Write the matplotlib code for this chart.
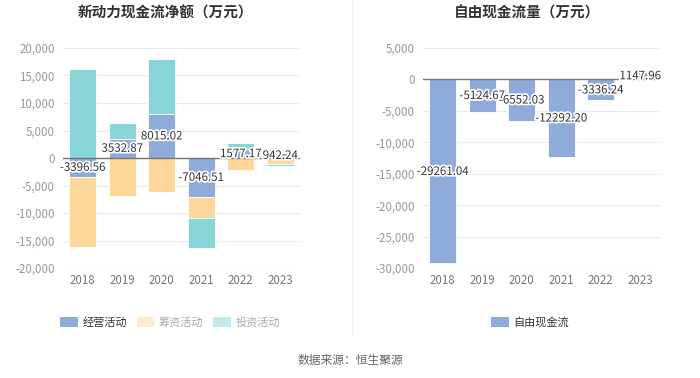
import matplotlib
matplotlib.use("Agg")
import matplotlib.pyplot as plt
import matplotlib.patheffects as pe
from matplotlib.patches import Patch
import numpy as np

plt.rcParams['font.family'] = ['Noto Sans CJK SC', 'DejaVu Sans']

years = ['2018', '2019', '2020', '2021', '2022', '2023']
operating = [-3396.56, 3532.87, 8015.02, -7046.51, 1577.17, 942.24]
financing = [-12725, -6909, -6242, -3863, -2242, -1090]
investing = [16182, 2890, 9985, -5515, 1090, -425]
free_cf = [-29261.04, -5124.67, -6552.03, -12292.20, -3336.24, 1147.96]

left_title = '新动力现金流净额（万元）'
right_title = '自由现金流量（万元）'
left_legend = ['经营活动', '筹资活动', '投资活动']
right_legend = ['自由现金流']
source = '数据来源：恒生聚源'

c_blue = '#8eabda'
c_orange = '#fed79a'
c_cyan = '#87d5d7'

W, H = 700, 378
fig = plt.figure(figsize=(W/100, H/100), dpi=100)

def ax_rect(l, t, r, b):
    return [l/W, 1 - b/H, (r-l)/W, (b-t)/H]

ax1 = fig.add_axes(ax_rect(63, 48, 300, 268))
ax2 = fig.add_axes(ax_rect(423, 48, 660, 268))

x = np.arange(len(years))
bw = 0.69

def stack(series_list, colors, ax):
    pos = np.zeros(len(years))
    neg = np.zeros(len(years))
    for vals, col in zip(series_list, colors):
        vals = np.array(vals, dtype=float)
        bottoms = np.where(vals >= 0, pos, neg)
        ax.bar(x, vals, bw, bottom=bottoms, color=col, edgecolor='white', linewidth=0.6, zorder=2)
        pos = np.where(vals >= 0, pos + vals, pos)
        neg = np.where(vals < 0, neg + vals, neg)

stack([operating, financing, investing], [c_blue, c_orange, c_cyan], ax1)
ax2.bar(x, free_cf, bw, color=c_blue, edgecolor='white', linewidth=0.6, zorder=2)

stroke = [pe.withStroke(linewidth=2.5, foreground='white')]
for i, v in enumerate(operating):
    ax1.text(x[i], v/2, f'{v:.2f}', ha='center', va='center', fontsize=8.3,
             color='#333333', path_effects=stroke, zorder=5)
for i, v in enumerate(free_cf):
    ax2.text(x[i], v/2, f'{v:.2f}', ha='center', va='center', fontsize=8.3,
             color='#333333', path_effects=stroke, zorder=5)

def style(ax, lo, hi, step):
    ax.set_ylim(lo, hi)
    ax.set_xlim(-0.5, len(years) - 0.5)
    ticks = np.arange(lo, hi + 1, step)
    ax.set_yticks(ticks)
    ax.set_yticklabels([f'{int(t):,}' for t in ticks])
    ax.set_xticks(x)
    ax.set_xticklabels(years)
    for s in ax.spines.values():
        s.set_visible(False)
    ax.grid(axis='y', color='#e6eaf2', linewidth=0.8, zorder=0)
    ax.axhline(0, color='#777777', linewidth=1.0, zorder=3)
    ax.tick_params(axis='y', length=0, labelsize=8.3, labelcolor='#999999', pad=6)
    ax.tick_params(axis='x', length=0, labelsize=8.3, labelcolor='#777777', pad=4)
    ax.set_axisbelow(True)

style(ax1, -20000, 20000, 5000)
style(ax2, -30000, 5000, 5000)

fig.text(165/W, 1 - 13/H, left_title, ha='center', va='center', fontsize=10.5, fontweight='bold', color='#333333')
fig.text(527/W, 1 - 13/H, right_title, ha='center', va='center', fontsize=10.5, fontweight='bold', color='#333333')

# divider
fig.add_artist(plt.Line2D([352/W, 352/W], [1 - 0/H, 1 - 335/H], color='#eeeeee', linewidth=0.8))

h1 = [Patch(facecolor=c_blue, edgecolor='none'),
      Patch(facecolor='#fdebcc', edgecolor='none'),
      Patch(facecolor='#c3eaeb', edgecolor='none')]
leg1 = fig.legend(h1, left_legend, loc='center', bbox_to_anchor=(170/W, 1 - 322/H), ncol=3,
                  frameon=False, fontsize=8, handlelength=1.6, handleheight=1.0,
                  columnspacing=0.9, handletextpad=0.4)
for t, c in zip(leg1.get_texts(), ['#333333', '#aaaaaa', '#aaaaaa']):
    t.set_color(c)
h2 = [Patch(facecolor=c_blue, edgecolor='none')]
leg2 = fig.legend(h2, right_legend, loc='center', bbox_to_anchor=(530/W, 1 - 322/H), ncol=1,
                  frameon=False, fontsize=8, handlelength=1.6, handleheight=1.0, handletextpad=0.4)
for t in leg2.get_texts():
    t.set_color('#333333')

fig.text(350/W, 1 - 360/H, source, ha='center', va='center', fontsize=8.5, color='#666666')

fig.savefig('out.png', dpi=100, facecolor='white')
